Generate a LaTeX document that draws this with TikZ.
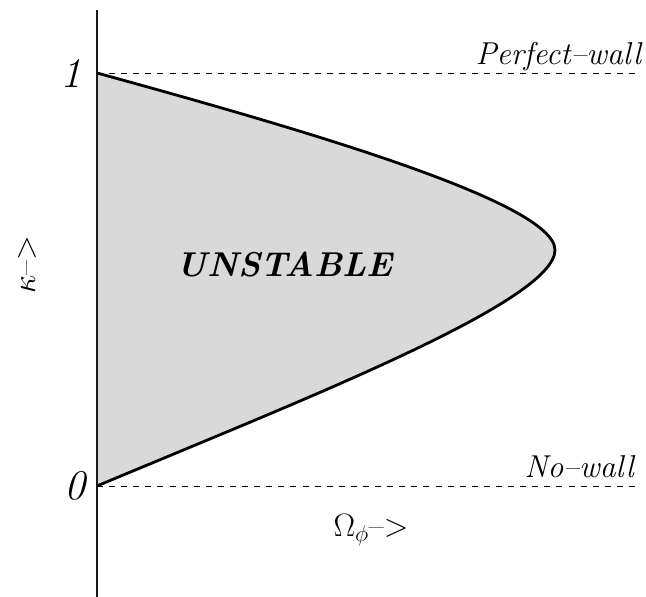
\documentclass[tikz,border=0pt]{standalone}
\usepackage{fix-cm}
\usepackage{amsmath}
\usetikzlibrary{calc}
\definecolor{RegionFill}{gray}{0.85}
\definecolor{RegionInk}{gray}{0.0}
\definecolor{AxisInk}{gray}{0.10}
\tikzset{
    stab/diagram/.style={
        draw=RegionInk,
        text=RegionInk,
        line width=0.8pt,
        line join=round,
        every node/.style={inner sep=0pt, outer sep=0pt}
    },
    stab/axis/.style={draw=AxisInk, line width=0.9pt},
    stab/curve/.style={draw=RegionInk, line width=2pt},
    stab/wall/.style={draw=RegionInk, line width=0.7pt,
        dash pattern=on 4.3pt off 4.3pt},
    stab/tick/.style={font=\fontsize{30}{34}\selectfont\itshape},
    stab/walllabel/.style={font=\fontsize{22.5}{27}\selectfont\itshape},
    stab/axislabel/.style={font=\fontsize{23}{27}\selectfont},
    stab/region/.style={font=\fontsize{24.5}{30}\selectfont\bfseries\itshape}
}

\begin{document}
\begin{tikzpicture}[stab/diagram]
    \useasboundingbox (-2.425,-2.775) rectangle (13.725,12.15);
    \def\UnstableBoundary{
        (0,10.325)
        .. controls (5,8.95) and (11.45,7.1) .. (11.45,5.9)
        .. controls (11.45,4.6) and (5,2.1) .. (0,0)
    }
    \fill[RegionFill] \UnstableBoundary -- cycle;
    % walls
    \coordinate (Zero) at (0,0);
    \coordinate (One) at (0,10.325);
    \coordinate (ZeroEnd) at (13.575,0);
    \coordinate (OneEnd) at (13.575,10.325);
    \draw[stab/wall] (One) -- (OneEnd);
    \draw[stab/wall] (Zero) -- (ZeroEnd);
    \draw[stab/curve] \UnstableBoundary;
    % axis
    \coordinate (AxisTop) at (0,11.9);
    \coordinate (AxisBottom) at (0,-2.775);
    \draw[stab/axis] (AxisTop) -- (AxisBottom);
    % labels
    \node[stab/tick] (OneLabel) at (-0.65,10.325) {1};
    \node[stab/tick] (ZeroLabel) at (-0.55,0.0) {0};
    \node[stab/walllabel, anchor=base east] (Perfect) at (13.6,10.525) {Perfect--wall};
    \node[stab/walllabel, anchor=base east] (NoWall) at (13.42,0.2) {No--wall};
    \node[stab/axislabel, anchor=base] (OmegaLabel) at (6.85,-1.275) {$\Omega_\phi$--$>$};
    \node[stab/axislabel, rotate=90] (KappaLabel) at (-1.75,5.525) {$\kappa$--$>$};
    \node[stab/region] (Unstable) at (4.7,5.525) {UNSTABLE};
\end{tikzpicture}
\end{document}
